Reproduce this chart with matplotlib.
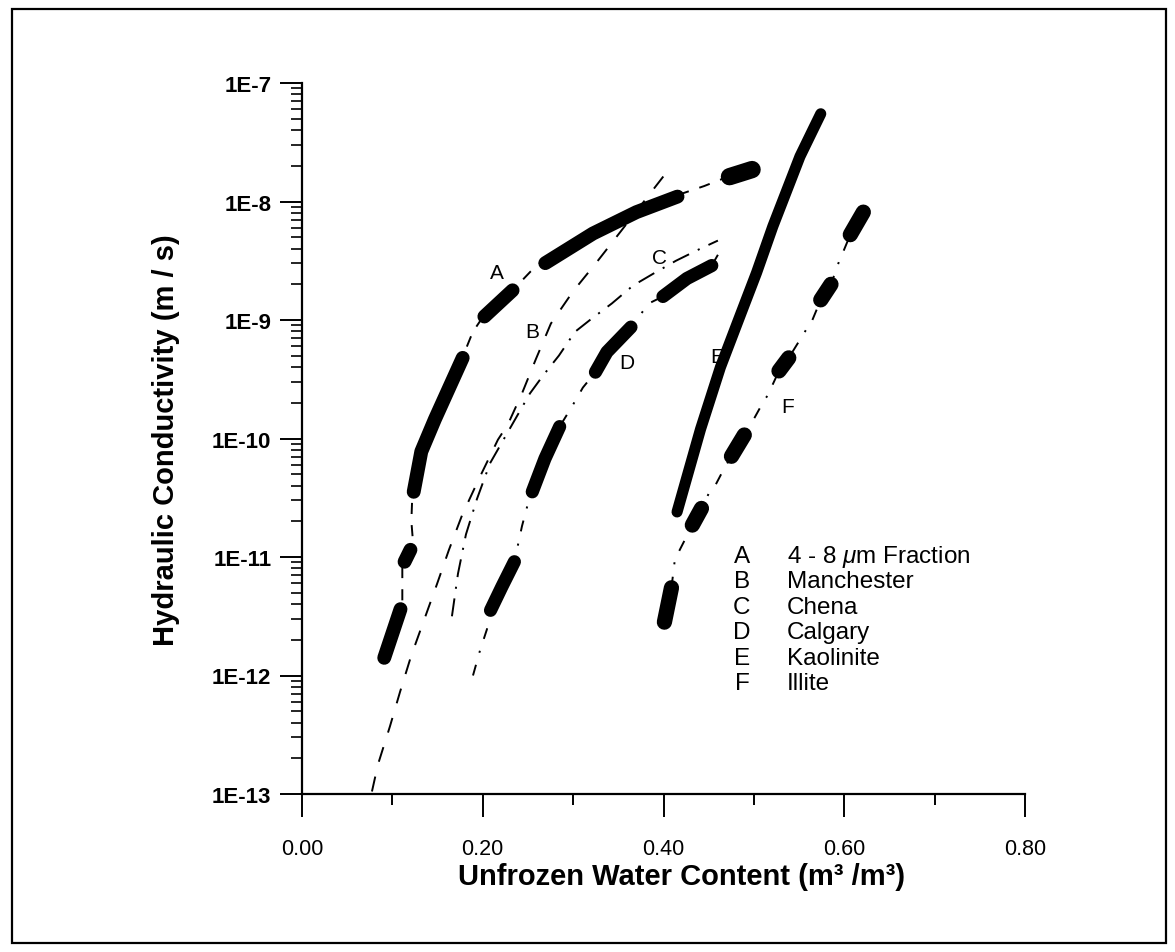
import numpy as np
import matplotlib
matplotlib.use('Agg')
import matplotlib.pyplot as plt
from matplotlib.patches import Rectangle
from matplotlib.ticker import LogLocator, FuncFormatter, NullFormatter

plt.rcParams['font.family'] = ['Liberation Sans', 'DejaVu Sans']
plt.rcParams['mathtext.fontset'] = 'custom'
plt.rcParams['mathtext.rm'] = 'Liberation Sans'
plt.rcParams['mathtext.it'] = 'Liberation Sans:italic'
plt.rcParams['mathtext.bf'] = 'Liberation Sans:bold'
plt.rcParams['lines.scale_dashes'] = False

# ---- fitted (thin) curves: unfrozen water content vs K (m/s)
a_fit_x = [0.0885, 0.111, 0.111, 0.123, 0.121, 0.122, 0.132, 0.147, 0.180, 0.189, 0.197,
           0.238, 0.253, 0.263, 0.322, 0.370, 0.421, 0.445, 0.465, 0.486, 0.507]
a_fit_k = [1.26e-12, 3.98e-12, 8.32e-12, 1.29e-11, 2.0e-11, 3.24e-11, 7.76e-11, 1.45e-10,
           5.37e-10, 7.94e-10, 9.77e-10, 1.95e-9, 2.57e-9, 3.02e-9, 5.37e-9, 8.13e-9,
           1.17e-8, 1.35e-8, 1.55e-8, 1.74e-8, 1.95e-8]

b_fit_x = [0.0774, 0.0841, 0.0973, 0.1084, 0.1206, 0.1493, 0.1626, 0.1770, 0.1958, 0.2168,
           0.2279, 0.2434, 0.2588, 0.2754, 0.2998, 0.3263, 0.3529, 0.4038, 0.4093]
b_fit_k = [1.05e-13, 1.78e-13, 3.72e-13, 7.24e-13, 1.45e-12, 5.89e-12, 1.15e-11, 2.24e-11,
           4.57e-11, 9.77e-11, 1.32e-10, 2.40e-10, 4.68e-10, 9.33e-10, 1.74e-9, 3.09e-9,
           5.62e-9, 1.78e-8, 2.00e-8]

c_fit_x = [0.1659, 0.1726, 0.1814, 0.1936, 0.2080, 0.2522, 0.2666, 0.2843, 0.3020, 0.3186,
           0.3429, 0.3662, 0.3883, 0.4137, 0.4403, 0.4602]
c_fit_k = [3.16e-12, 7.24e-12, 1.55e-11, 3.09e-11, 6.17e-11, 2.40e-10, 3.39e-10, 5.01e-10,
           7.94e-10, 1.00e-9, 1.38e-9, 1.95e-9, 2.45e-9, 3.16e-9, 3.98e-9, 4.68e-9]

d_fit_x = [0.1892, 0.1969, 0.2046, 0.2086, 0.2212, 0.2350, 0.2434, 0.2500, 0.2548, 0.2688,
           0.2851, 0.2987, 0.3108, 0.3247, 0.3374, 0.3640, 0.3838, 0.3994, 0.4259, 0.4534, 0.4602]
d_fit_k = [1.00e-12, 1.62e-12, 2.45e-12, 3.55e-12, 5.62e-12, 9.12e-12, 1.82e-11, 2.82e-11,
           3.55e-11, 6.76e-11, 1.26e-10, 1.86e-10, 2.69e-10, 3.63e-10, 5.37e-10, 8.71e-10,
           1.38e-9, 1.58e-9, 2.24e-9, 2.88e-9, 3.55e-9]

f_fit_x = [0.4088, 0.4126, 0.4320, 0.4420, 0.4510, 0.4570, 0.4680, 0.4752, 0.4894, 0.4980,
           0.5010, 0.5120, 0.5150, 0.5278, 0.5386, 0.5580, 0.5620, 0.5740, 0.5853, 0.5950,
           0.5980, 0.6067, 0.6211]
f_fit_k = [5.50e-12, 9.55e-12, 1.86e-11, 2.57e-11, 3.55e-11, 3.98e-11, 5.75e-11, 7.08e-11,
           1.07e-10, 1.38e-10, 1.51e-10, 2.14e-10, 2.29e-10, 3.72e-10, 4.79e-10, 8.32e-10,
           8.91e-10, 1.48e-9, 2.00e-9, 3.24e-9, 3.63e-9, 5.25e-9, 8.13e-9]

# ---- measured data (thick segments)
a_data = [
    ([0.091, 0.109], [1.41e-12, 3.63e-12]),
    ([0.1135, 0.120], [9.12e-12, 1.15e-11]),
    ([0.1236, 0.132, 0.147, 0.1778], [3.55e-11, 7.76e-11, 1.45e-10, 4.79e-10]),
    ([0.2018, 0.233], [1.07e-9, 1.78e-9]),
    ([0.2692, 0.322, 0.370, 0.4155], [3.02e-9, 5.37e-9, 8.13e-9, 1.10e-8]),
]
a_top = ([0.473, 0.486, 0.498], [1.62e-8, 1.74e-8, 1.86e-8])

d_data = [
    ([0.2086, 0.2212, 0.2350], [3.55e-12, 5.62e-12, 9.12e-12]),
    ([0.2548, 0.2688, 0.2851], [3.55e-11, 6.76e-11, 1.26e-10]),
    ([0.3247, 0.3374, 0.3640], [3.63e-10, 5.37e-10, 8.71e-10]),
    ([0.3994, 0.4259, 0.4534], [1.58e-9, 2.24e-9, 2.88e-9]),
]

e_x = [0.4150, 0.4410, 0.4630, 0.4850, 0.5030, 0.5210, 0.5510, 0.5650, 0.5740]
e_k = [2.40e-11, 1.20e-10, 4.00e-10, 1.10e-9, 2.51e-9, 6.17e-9, 2.40e-8, 3.98e-8, 5.50e-8]

f_data = [
    ([0.4010, 0.4088], [2.82e-12, 5.50e-12]),
    ([0.4319, 0.4420], [1.86e-11, 2.57e-11]),
    ([0.4752, 0.4894], [7.08e-11, 1.07e-10]),
    ([0.5278, 0.5386], [3.72e-10, 4.79e-10]),
    ([0.5740, 0.5853], [1.48e-9, 2.00e-9]),
    ([0.6067, 0.6211], [5.25e-9, 8.13e-9]),
]

# curve letters on the chart
curve_labels = ['A', 'B', 'C', 'D', 'E', 'F']
label_x = [0.2157, 0.2544, 0.396, 0.3595, 0.460, 0.5376]
label_k = [2.54e-9, 8.07e-10, 3.4e-9, 4.4e-10, 4.9e-10, 1.86e-10]

legend_names = [r'4 - 8 $\mu$m Fraction', 'Manchester', 'Chena', 'Calgary', 'Kaolinite', 'Illite']

x_major = [0.0, 0.2, 0.4, 0.6, 0.8]
x_minor = [0.1, 0.3, 0.5, 0.7]

W, H = 1175, 953
fig = plt.figure(figsize=(W / 100, H / 100), dpi=100)
ax = fig.add_axes([302 / W, 158 / H, 723 / W, 711 / H])

thin = dict(color='black', lw=1.4)
ax.plot(a_fit_x, a_fit_k, dashes=(8, 8), **thin)
ax.plot(b_fit_x, b_fit_k, dashes=(11, 11), **thin)
ax.plot(c_fit_x, c_fit_k, dashes=(13, 7, 1.5, 7), **thin)
ax.plot(d_fit_x, d_fit_k, dashes=(8, 9, 1.5, 9), **thin)
ax.plot(f_fit_x, f_fit_k, dashes=(8, 9, 1.5, 9), **thin)

thick = dict(color='black', solid_capstyle='round', solid_joinstyle='round')
for xs, ks in a_data:
    ax.plot(xs, ks, lw=10, **thick)
ax.plot(a_top[0], a_top[1], lw=12.5, **thick)
for xs, ks in d_data:
    ax.plot(xs, ks, lw=9.5, **thick)
ax.plot(e_x, e_k, lw=8, **thick)
for xs, ks in f_data:
    ax.plot(xs, ks, lw=11, **thick)

for lab, lx, lk in zip(curve_labels, label_x, label_k):
    ax.text(lx, lk, lab, fontsize=15, ha='center', va='center')

# legend block
for i, (lab, name) in enumerate(zip(curve_labels, legend_names)):
    yb = (795 - (563 + 25.4 * i)) / 711
    ax.text((742 - 302) / 723, yb, lab, transform=ax.transAxes, fontsize=17.5,
            ha='center', va='baseline')
    ax.text((787 - 302) / 723, yb, name, transform=ax.transAxes, fontsize=17.5,
            ha='left', va='baseline')

ax.set_yscale('log')
ax.set_xlim(0, 0.8)
ax.set_ylim(1e-13, 1e-7)
for s in ['top', 'right']:
    ax.spines[s].set_visible(False)
for s in ['left', 'bottom']:
    ax.spines[s].set_linewidth(1.6)

ax.set_xticks(x_major)
ax.set_xticklabels(['%.2f' % v for v in x_major])
ax.set_xticks(x_minor, minor=True)
ax.yaxis.set_major_locator(LogLocator(base=10, numticks=12))
ax.yaxis.set_minor_locator(LogLocator(base=10, subs=np.arange(2, 10), numticks=12))
ax.yaxis.set_minor_formatter(NullFormatter())
ax.yaxis.set_major_formatter(FuncFormatter(lambda v, p: '1E%d' % round(np.log10(v))))

ax.tick_params(axis='x', which='major', direction='out', length=16.5, width=1.4, pad=15, labelsize=15.5)
ax.tick_params(axis='x', which='minor', direction='out', length=8, width=1.4)
ax.tick_params(axis='y', which='major', direction='out', length=16, width=1.4, pad=6, labelsize=16)
ax.tick_params(axis='y', which='minor', direction='out', length=8, width=1.2)
for t in ax.get_yticklabels():
    t.set_fontweight('bold')

ax.set_xlabel('Unfrozen Water Content (m³ /m³)', fontsize=21, fontweight='bold')
ax.xaxis.set_label_coords(0.525, -0.096)
ax.xaxis.label.set_va('top')
ax.set_ylabel('Hydraulic Conductivity (m / s)', fontsize=21, fontweight='bold')
ax.yaxis.set_label_coords(-0.188, 0.499)
ax.yaxis.label.set_va('center')

# scanned page frame
fig.add_artist(Rectangle((12 / W, (H - 944) / H), (1166 - 12) / W, (944 - 10) / H,
                         transform=fig.transFigure, fill=False, lw=1.6, color='black'))

fig.savefig('out.png', dpi=100)
